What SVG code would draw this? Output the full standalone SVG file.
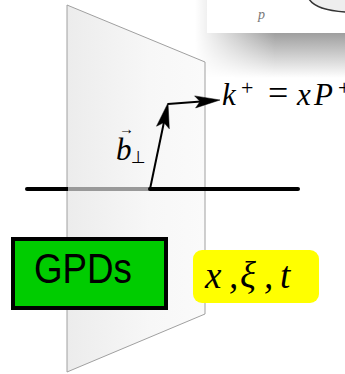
<svg xmlns="http://www.w3.org/2000/svg" width="345" height="374" viewBox="0 0 345 374">
<style>
.math{font-family:"Liberation Serif","DejaVu Serif",serif;font-style:italic;fill:#000}
.up{font-family:"Liberation Serif","DejaVu Serif",serif;font-style:normal;fill:#000}
.vec{stroke:#000;stroke-width:2;fill:none}
.head{fill:#000;stroke:#000;stroke-width:0.5;stroke-linejoin:miter}
</style>
<defs>
<linearGradient id="planeGrad" x1="67" y1="0" x2="205" y2="0" gradientUnits="userSpaceOnUse">
<stop offset="0" stop-color="#ececec"/>
<stop offset="0.6" stop-color="#f7f7f7"/>
<stop offset="1" stop-color="#fafafa"/>
</linearGradient>
<linearGradient id="shadowV" x1="0" y1="0" x2="0" y2="78" gradientUnits="userSpaceOnUse">
<stop offset="0" stop-color="#9a9a9a"/>
<stop offset="0.42" stop-color="#9e9e9e"/>
<stop offset="1" stop-color="#ffffff"/>
</linearGradient>
<linearGradient id="shadowH" x1="195" y1="0" x2="275" y2="0" gradientUnits="userSpaceOnUse">
<stop offset="0" stop-color="#000"/>
<stop offset="1" stop-color="#fff"/>
</linearGradient>
<mask id="shadowMask">
<rect x="190" y="0" width="155" height="80" fill="url(#shadowH)"/>
</mask>
</defs>

<g id="topbox">
<rect x="190" y="0" width="155" height="80" fill="url(#shadowV)" mask="url(#shadowMask)"/>
<rect x="207" y="0" width="138" height="33" fill="#ffffff"/>
<path d="M309,-1 C314,7 328,11 346,12 L346,-1 Z" fill="#eeeeee" stroke="none"/>
<path d="M309,-1 C314,7 328,11 346,12" fill="none" stroke="#333" stroke-width="1.5"/>
<text x="258" y="19" font-family="Liberation Serif, serif" font-style="italic" font-size="14" fill="#777">p</text>
</g>

<g id="plane">
<polygon points="67,5 205,62 205,314 67,372" fill="url(#planeGrad)" stroke="#a0a0a0" stroke-width="1"/>
</g>

<g id="connectors">
<line x1="27" y1="189" x2="68" y2="189" stroke="#000" stroke-width="4" stroke-linecap="round"/>
<line x1="68" y1="189" x2="150" y2="189" stroke="#999" stroke-width="4"/>
<line x1="150" y1="189" x2="298" y2="189" stroke="#000" stroke-width="4" stroke-linecap="round"/>
<line class="vec" x1="150" y1="189" x2="164" y2="122"/>
<path class="head" d="M168,103 L169.3,128.8 L163.9,122.6 L156.5,126.2 Z"/>
<line class="vec" x1="168" y1="104" x2="201" y2="101.5"/>
<path class="head" d="M220,100 L195.6,107.9 L200.1,101.5 L194.6,95.9 Z"/>
</g>

<g id="labels">
<text class="math" x="116" y="160" font-size="31">b</text>
<text class="up" x="119" y="134" font-size="15">→</text>
<text x="131" y="163" font-family="DejaVu Sans, sans-serif" font-size="17" fill="#000">⊥</text>
<text class="math" x="222" y="105" font-size="31">k</text>
<text class="up" x="241" y="95" font-size="22">+</text>
<text class="up" x="268" y="105" font-size="36">=</text>
<text class="math" x="297" y="105" font-size="31">x</text>
<text class="math" x="314" y="105" font-size="31">P</text>
<text class="up" x="338" y="95" font-size="22">+</text>
</g>

<g id="gpds">
<rect x="13" y="239" width="153" height="69" fill="#00cc00" stroke="#000" stroke-width="4"/>
<text x="34" y="283" font-family="Liberation Sans, Arial, sans-serif" font-size="43" textLength="98" lengthAdjust="spacingAndGlyphs" fill="#000">GPDs</text>
</g>

<g id="vars">
<rect x="193" y="250" width="126" height="53" rx="9" ry="9" fill="#ffff00"/>
<text class="math" x="205" y="288" font-size="37">x</text>
<text class="math" x="229" y="288" font-size="37">,</text>
<text class="math" x="240" y="288" font-size="37">ξ</text>
<text class="math" x="264" y="288" font-size="37">,</text>
<text class="math" x="280" y="288" font-size="37">t</text>
</g>
</svg>
